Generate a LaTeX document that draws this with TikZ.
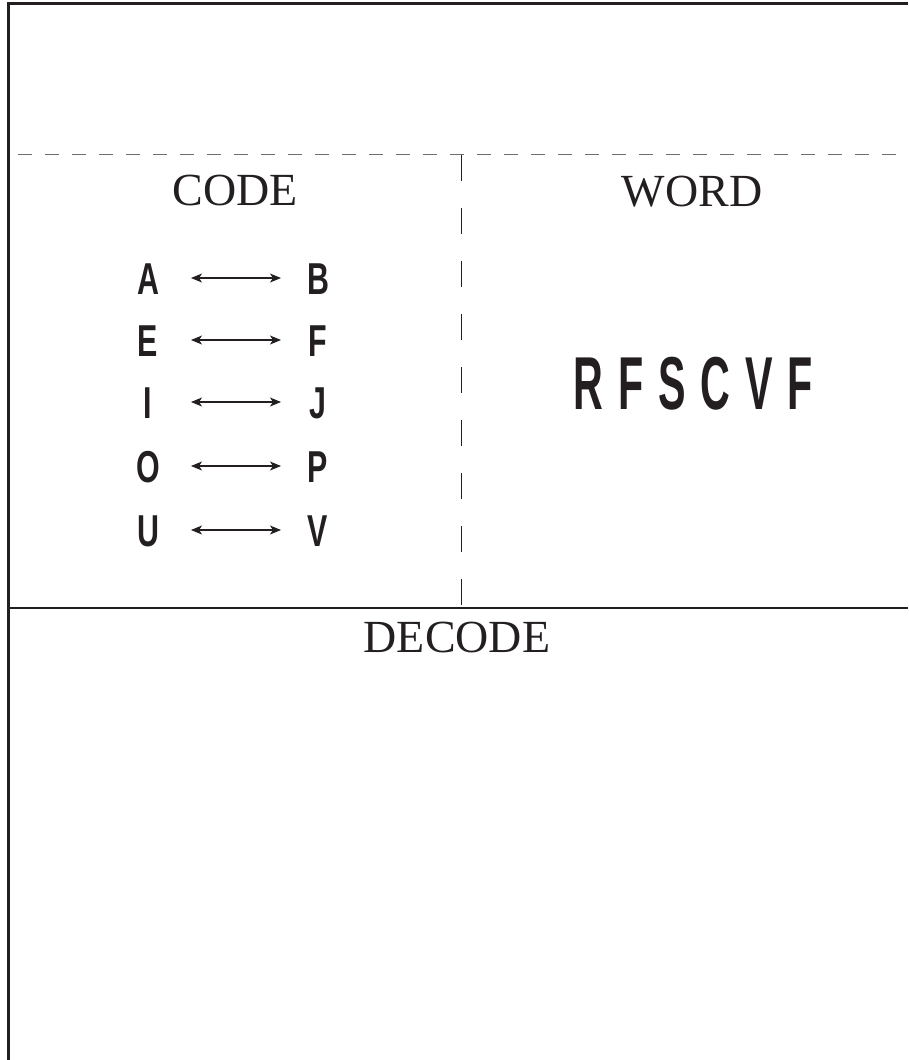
\documentclass[tikz,border=0pt]{standalone}
\usepackage{fontspec}
\setmainfont{Liberation Serif}
\newfontfamily\condfont{Liberation Sans}
\usetikzlibrary{arrows.meta}
\definecolor{ink}{HTML}{231F20}
\definecolor{dashgray}{HTML}{6D6E71}
\begin{document}
\begin{tikzpicture}[x=1pt,y=-1pt,
  title/.style={font=\fontsize{46}{46}\selectfont, text=ink, anchor=base, inner sep=0pt},
  letter/.style={font=\condfont\bfseries\fontsize{44.7}{45}\selectfont, text=ink, inner sep=0pt, text height=32pt, text depth=0pt},
  bigword/.style={font=\condfont\bfseries\fontsize{75}{75}\selectfont, text=ink, inner sep=0pt, anchor=base},
  link/.style={draw=ink, line width=1.1pt, {Stealth[length=11pt,width=9pt,inset=3pt]}-{Stealth[length=11pt,width=9pt,inset=3pt]}, shorten <=43pt, shorten >=37pt},
  frame/.style={draw=ink, line width=2.5pt},
  topdash/.style={draw=dashgray, line width=1.3pt, dash pattern=on 14pt off 13pt, dash phase=17pt},
  middash/.style={draw=ink, line width=1pt, dash pattern=on 26pt off 27pt},
  divider/.style={draw=ink, line width=1.3pt}
]
\useasboundingbox (0,0) rectangle (908,1060);
% frame (left and top)
\draw[frame] (8.5,1060) -- (8.5,3.5) -- (908,3.5);
% dividers
\draw[topdash] (8,154.5) -- (908,154.5);
\draw[middash] (461.5,155) -- (461.5,608);
\draw[divider] (8,608) -- (908,608);
% titles
\node[title] (code) at (235.5,205.5) {CODE};
\node[title] (word) at (692,206) {WORD};
\node[title] (decode) at (457,652) {DECODE};
% code letters
\node[letter] (A) at (148,278) {\scalebox{0.68}[1]{A}};
\node[letter] (B) at (318,278) {\scalebox{0.68}[1]{B}};
\node[letter] (E) at (148,340) {\scalebox{0.68}[1]{E}};
\node[letter] (F) at (318,340) {\scalebox{0.68}[1]{F}};
\node[letter] (I) at (148,402) {\scalebox{0.68}[1]{I}};
\node[letter] (J) at (318,402) {\scalebox{0.68}[1]{J}};
\node[letter] (O) at (148,466) {\scalebox{0.68}[1]{O}};
\node[letter] (P) at (318,466) {\scalebox{0.68}[1]{P}};
\node[letter] (U) at (148,530) {\scalebox{0.68}[1]{U}};
\node[letter] (V) at (318,530) {\scalebox{0.68}[1]{V}};
\draw[link] (A.center) -- (B.center);
\draw[link] (E.center) -- (F.center);
\draw[link] (I.center) -- (J.center);
\draw[link] (O.center) -- (P.center);
\draw[link] (U.center) -- (V.center);
% word
\node[bigword] (rfscvf) at (693,409) {\scalebox{0.55}[1]{R\hspace{27pt}F\hspace{27pt}S\hspace{27pt}C\hspace{27pt}V\hspace{27pt}F}};
\end{tikzpicture}
\end{document}
